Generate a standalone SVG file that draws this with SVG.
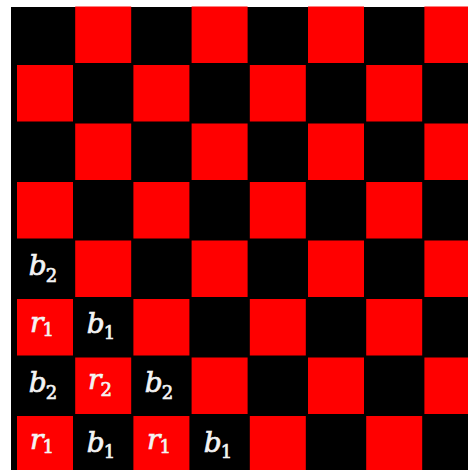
<svg xmlns="http://www.w3.org/2000/svg" width="468" height="470" viewBox="0 0 468 470">
<style>
.r{fill:#ff0000}
.t{font-family:"DejaVu Serif","Liberation Serif",serif;font-style:italic;font-size:28px;fill:#f4f4f4;stroke:#f4f4f4;stroke-width:0.7px;text-anchor:middle}
.s{font-style:normal;font-size:18px}
</style>
<rect x="0" y="0" width="468" height="470" fill="#ffffff"/>
<g id="board">
<rect x="11" y="7" width="457" height="463" fill="#000000"/>
<g id="red-squares">
<rect class="r" x="75.2" y="6.5" width="56" height="56.5"/>
<rect class="r" x="191.6" y="6.5" width="56" height="56.5"/>
<rect class="r" x="308" y="6.5" width="56" height="56.5"/>
<rect class="r" x="424.4" y="6.5" width="56" height="56.5"/>
<rect class="r" x="17" y="65" width="56" height="56.5"/>
<rect class="r" x="133.4" y="65" width="56" height="56.5"/>
<rect class="r" x="249.8" y="65" width="56" height="56.5"/>
<rect class="r" x="366.2" y="65" width="56" height="56.5"/>
<rect class="r" x="75.2" y="123.5" width="56" height="56.5"/>
<rect class="r" x="191.6" y="123.5" width="56" height="56.5"/>
<rect class="r" x="308" y="123.5" width="56" height="56.5"/>
<rect class="r" x="424.4" y="123.5" width="56" height="56.5"/>
<rect class="r" x="17" y="182" width="56" height="56.5"/>
<rect class="r" x="133.4" y="182" width="56" height="56.5"/>
<rect class="r" x="249.8" y="182" width="56" height="56.5"/>
<rect class="r" x="366.2" y="182" width="56" height="56.5"/>
<rect class="r" x="75.2" y="240.5" width="56" height="56.5"/>
<rect class="r" x="191.6" y="240.5" width="56" height="56.5"/>
<rect class="r" x="308" y="240.5" width="56" height="56.5"/>
<rect class="r" x="424.4" y="240.5" width="56" height="56.5"/>
<rect class="r" x="17" y="299" width="56" height="56.5"/>
<rect class="r" x="133.4" y="299" width="56" height="56.5"/>
<rect class="r" x="249.8" y="299" width="56" height="56.5"/>
<rect class="r" x="366.2" y="299" width="56" height="56.5"/>
<rect class="r" x="75.2" y="357.5" width="56" height="56.5"/>
<rect class="r" x="191.6" y="357.5" width="56" height="56.5"/>
<rect class="r" x="308" y="357.5" width="56" height="56.5"/>
<rect class="r" x="424.4" y="357.5" width="56" height="56.5"/>
<rect class="r" x="17" y="416" width="56" height="56.5"/>
<rect class="r" x="133.4" y="416" width="56" height="56.5"/>
<rect class="r" x="249.8" y="416" width="56" height="56.5"/>
<rect class="r" x="366.2" y="416" width="56" height="56.5"/>
</g>
</g>
<g id="labels">
<text class="t" x="43" y="274.5">b<tspan class="s" dx="-1" dy="7">2</tspan></text>
<text class="t" x="42" y="332">r<tspan class="s" dx="-1" dy="4">1</tspan></text>
<text class="t" x="101" y="333">b<tspan class="s" dx="-1" dy="6">1</tspan></text>
<text class="t" x="43" y="391.5">b<tspan class="s" dx="-1" dy="7">2</tspan></text>
<text class="t" x="100" y="388.5">r<tspan class="s" dx="-1" dy="7">2</tspan></text>
<text class="t" x="159" y="391.5">b<tspan class="s" dx="-1" dy="7">2</tspan></text>
<text class="t" x="42" y="448.5">r<tspan class="s" dx="-1" dy="4.5">1</tspan></text>
<text class="t" x="101" y="451.5">b<tspan class="s" dx="-1" dy="6">1</tspan></text>
<text class="t" x="159" y="448.5">r<tspan class="s" dx="-1" dy="4.5">1</tspan></text>
<text class="t" x="218" y="451.5">b<tspan class="s" dx="-1" dy="6">1</tspan></text>
</g>
</svg>
